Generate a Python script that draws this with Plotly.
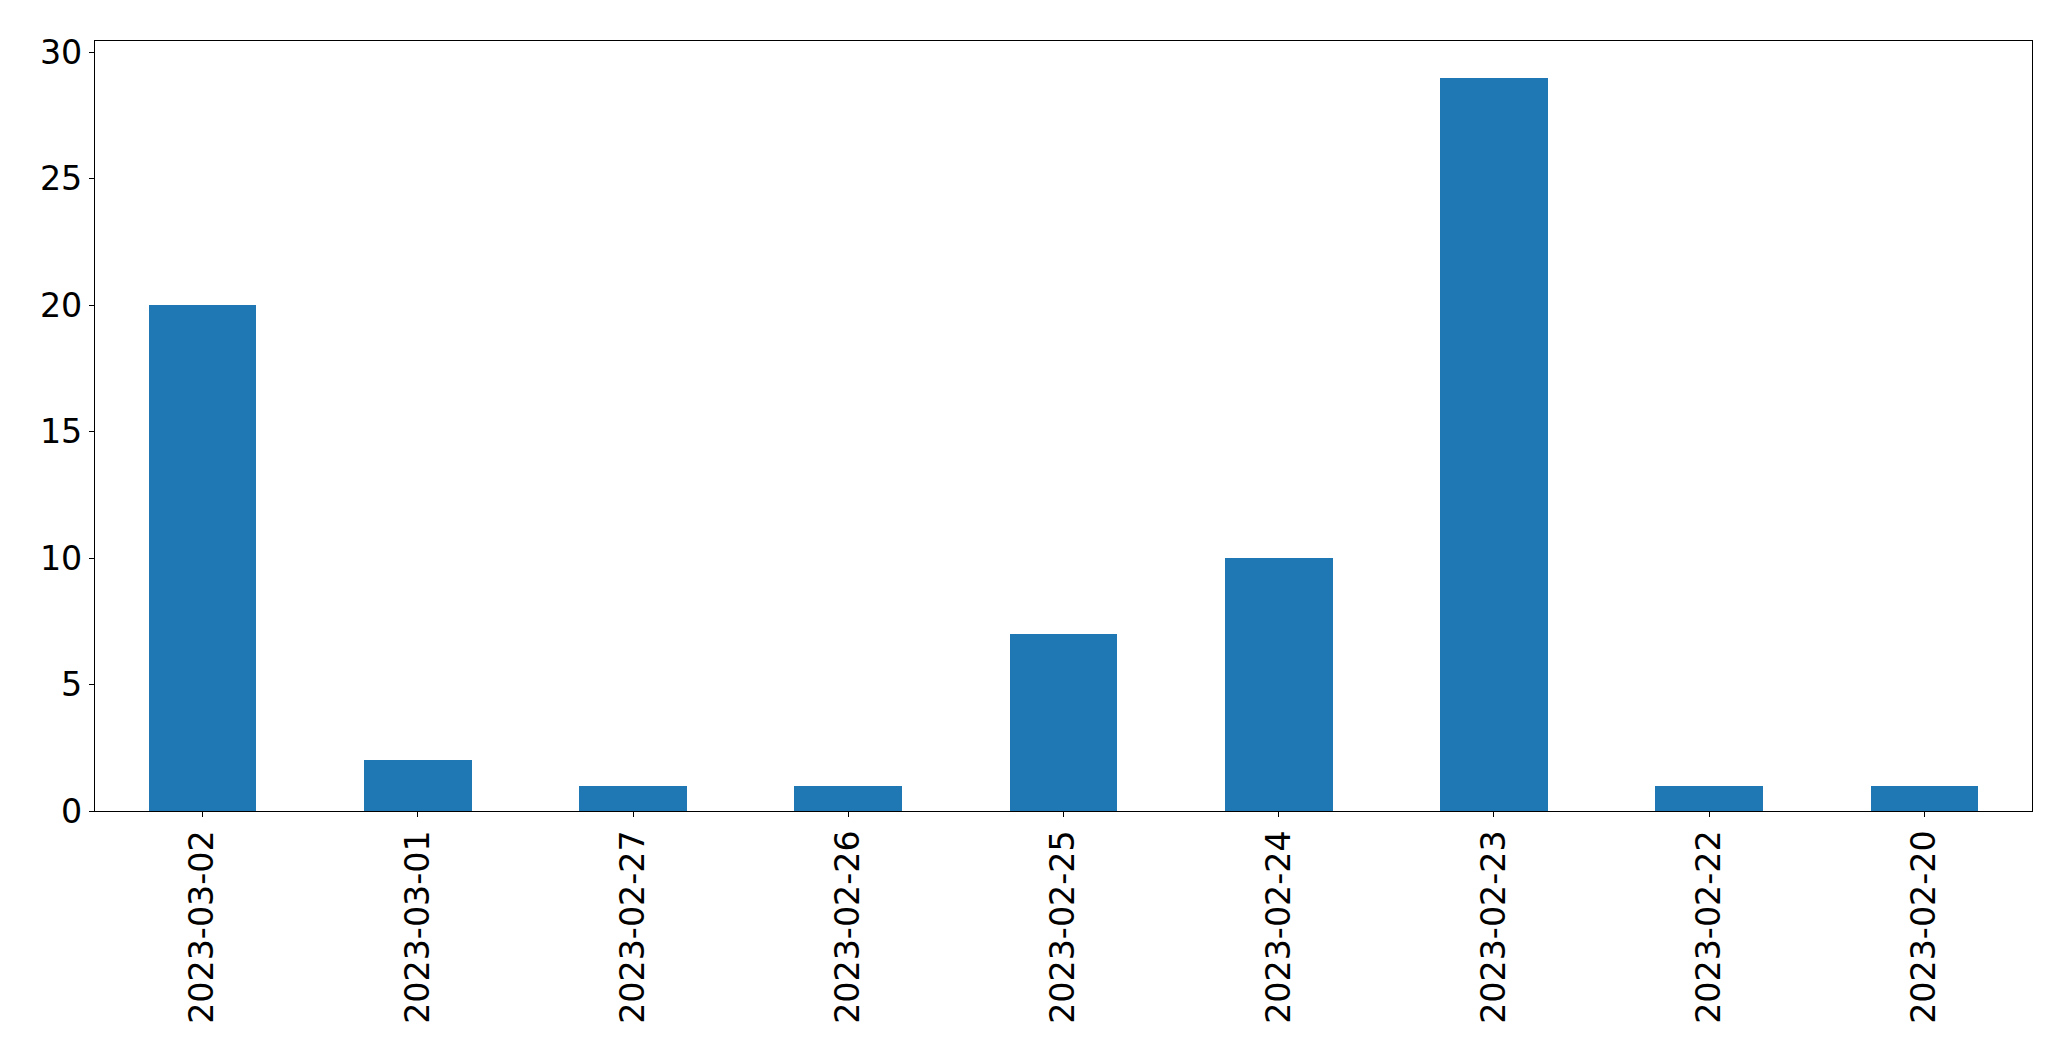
import plotly.graph_objects as go

categories = ["2023-03-02", "2023-03-01", "2023-02-27", "2023-02-26", "2023-02-25",
              "2023-02-24", "2023-02-23", "2023-02-22", "2023-02-20"]
values = [20, 2, 1, 1, 7, 10, 29, 1, 1]
y_ticks = [0, 5, 10, 15, 20, 25, 30]

# page body has an 8px margin; size the figure to fit inside it
W, H = 2055, 1047
fig = go.Figure(go.Bar(x=list(range(len(categories))), y=values, width=0.5,
                       marker=dict(color="#1f77b4", line=dict(width=0))))

font = dict(family="DejaVu Sans", size=33.3, color="black")
fig.update_layout(
    width=W, height=H,
    margin=dict(l=86.5, r=31.3, t=33.3, b=244, autoexpand=False),
    paper_bgcolor="white", plot_bgcolor="white",
    showlegend=False, bargap=0, font=font,
)
fig.update_xaxes(
    range=[-0.5, len(categories) - 0.5],
    tickmode="array", tickvals=list(range(len(categories))), ticktext=categories,
    tickangle=-90, ticks="outside", ticklen=5, tickwidth=1.1, tickcolor="black",
    showline=True, linecolor="black", linewidth=1.1, mirror=True,
    showgrid=False, zeroline=False, tickfont=font,
)
fig.update_yaxes(
    range=[0, 30.45], tickmode="array", tickvals=y_ticks,
    ticks="outside", ticklen=5, tickwidth=1.1, tickcolor="black",
    showline=True, linecolor="black", linewidth=1.1, mirror=True,
    showgrid=False, zeroline=False, tickfont=font,
)
fig.write_html("out.html")
